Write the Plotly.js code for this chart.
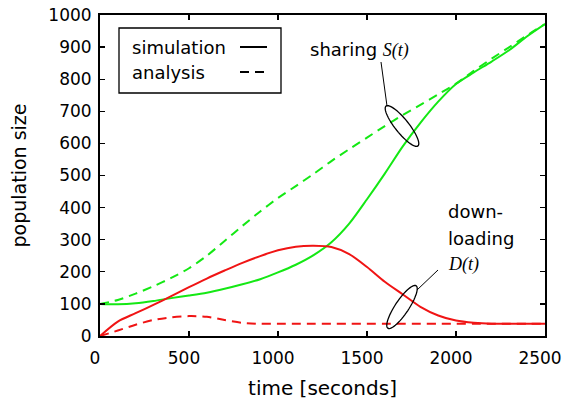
<!DOCTYPE html>
<html>
<head>
<meta charset="utf-8">
<script src="https://cdn.plot.ly/plotly-3.0.1.min.js"></script>
<style>html,body{margin:0;padding:0;background:#fff;}#chart{width:562px;height:401px;}</style>
</head>
<body>
<div id="chart"></div>
<script>
// time axis (seconds)
const time = [0,100,200,300,400,500,600,700,800,900,1000,1100,1200,1300,1400,1500,1600,1700,1800,1900,2000,2100,2200,2300,2400,2500];
// sharing S(t)
const sharingSim = [100,99,102,109,118,126,135,147,161,177,198,222,252,292,350,426,506,590,664,730,785,821,855,891,934,972];
const sharingAna = [100,112,132,155,181,211,250,296,343,388,430,467,505,545,582,618,654,688,720,753,786,826,864,900,937,972];
// downloading D(t)
const downSim = [0,45,71,97,124,152,179,204,228,249,267,278,281,277,255,215,169,130,91,64,48,41,38,38,38,38];
const downAna = [0,17,35,50,58,62,60,50,41,38,38,38,38,38,38,38,38,38,38,38,38,38,38,38,38,38];

const xTicks = [0,500,1000,1500,2000,2500];
const yTicks = [0,100,200,300,400,500,600,700,800,900,1000];
const legendLabels = ["simulation","analysis"];

const GREEN = "rgb(20,232,20)";
const RED = "rgb(240,20,20)";
const FONT = "DejaVu Sans, sans-serif";

const M = {l:100, r:17, t:15, b:65};
const W = 562, H = 401;
const pw = W - M.l - M.r, ph = H - M.t - M.b;
const X0 = 0, X1 = 2500, Y0 = 0, Y1 = 1000;
// pixel -> data helpers for annotation geometry
const px2x = p => X0 + (p - M.l) / pw * (X1 - X0);
const py2y = p => Y0 + (H - M.b - p) / ph * (Y1 - Y0);

function ellipsePath(cx, cy, a, b, dx, dy) {
  const n = Math.hypot(dx, dy); dx /= n; dy /= n;
  let d = "";
  for (let i = 0; i <= 60; i++) {
    const th = i / 60 * 2 * Math.PI;
    const u = a * Math.cos(th), v = b * Math.sin(th);
    const px = cx + u * dx - v * dy, py = cy + u * dy + v * dx;
    d += (i === 0 ? "M" : "L") + px2x(px).toFixed(2) + "," + py2y(py).toFixed(2);
  }
  return d + "Z";
}

const traces = [
  {x: time, y: sharingSim, mode: "lines", line: {color: GREEN, width: 2, shape: "spline", smoothing: 0.8}},
  {x: time, y: sharingAna, mode: "lines", line: {color: GREEN, width: 2, dash: "9px,6px", shape: "spline", smoothing: 0.8}},
  {x: time, y: downSim, mode: "lines", line: {color: RED, width: 2, shape: "spline", smoothing: 0.8}},
  {x: time, y: downAna, mode: "lines", line: {color: RED, width: 2, dash: "9px,6px", shape: "spline", smoothing: 0.8}}
];

const shapes = [
  // legend box
  {type: "rect", xref: "x", yref: "y", x0: px2x(119), x1: px2x(281), y0: py2y(28), y1: py2y(93), line: {color: "black", width: 1.3}, fillcolor: "white", layer: "above"},
  {type: "line", xref: "x", yref: "y", x0: px2x(240), x1: px2x(267), y0: py2y(47), y1: py2y(47), line: {color: "black", width: 2}},
  {type: "line", xref: "x", yref: "y", x0: px2x(240), x1: px2x(267), y0: py2y(72), y1: py2y(72), line: {color: "black", width: 2, dash: "9px,6px"}},
  // ellipses and leader lines
  {type: "path", xref: "x", yref: "y", path: ellipsePath(402, 126, 25.5, 6.8, 32, 40), line: {color: "black", width: 1.3}},
  {type: "line", xref: "x", yref: "y", x0: px2x(381), y0: py2y(62), x1: px2x(387), y1: py2y(106), line: {color: "black", width: 1}},
  {type: "path", xref: "x", yref: "y", path: ellipsePath(402, 307, 25.5, 6.8, 28, -42), line: {color: "black", width: 1.3}},
  {type: "line", xref: "x", yref: "y", x0: px2x(417), y0: py2y(290), x1: px2x(438), y1: py2y(270), line: {color: "black", width: 1}}
];

const annFont = {family: FONT, size: 18, color: "black"};
const serif = t => '<span style="font-family:Liberation Serif, serif;font-style:italic">' + t + '</span>';
const annotations = [
  {xref: "x", yref: "y", x: px2x(130), y: py2y(47), text: legendLabels[0], showarrow: false, xanchor: "left", yanchor: "middle", font: annFont},
  {xref: "x", yref: "y", x: px2x(130), y: py2y(72), text: legendLabels[1], showarrow: false, xanchor: "left", yanchor: "middle", font: annFont},
  {xref: "x", yref: "y", x: px2x(308), y: py2y(50), text: "sharing " + serif("S(t)"), showarrow: false, xanchor: "left", yanchor: "middle", font: annFont},
  {xref: "x", yref: "y", x: px2x(446), y: py2y(211), text: "down-", showarrow: false, xanchor: "left", yanchor: "middle", font: annFont},
  {xref: "x", yref: "y", x: px2x(446), y: py2y(238), text: "loading", showarrow: false, xanchor: "left", yanchor: "middle", font: annFont},
  {xref: "x", yref: "y", x: px2x(446), y: py2y(264), text: serif("D(t)"), showarrow: false, xanchor: "left", yanchor: "middle", font: annFont}
];

const axisCommon = {
  showline: true, linecolor: "black", linewidth: 2, mirror: "ticks",
  ticks: "inside", ticklen: 5, tickwidth: 1.3, tickcolor: "black",
  showgrid: false, zeroline: false, ticklabeloverflow: "allow",
  tickfont: {family: FONT, size: 17, color: "black"}
};

const layout = {
  width: W, height: H,
  margin: M,
  paper_bgcolor: "white", plot_bgcolor: "white",
  showlegend: false,
  font: {family: FONT, color: "black"},
  xaxis: Object.assign({}, axisCommon, {
    range: [X0, X1], tickvals: xTicks, ticktext: xTicks.map(String), ticklabelstandoff: 6, ticklabelshift: -5,
    title: {text: "time [seconds]", font: {family: FONT, size: 20, color: "black"}, standoff: 14}
  }),
  yaxis: Object.assign({}, axisCommon, {
    range: [Y0, Y1], tickvals: yTicks, ticktext: yTicks.map(String), ticklabelstandoff: 3,
    title: {text: "population size", font: {family: FONT, size: 19, color: "black"}, standoff: 17}
  }),
  shapes: shapes,
  annotations: annotations
};

Plotly.newPlot("chart", traces, layout, {staticPlot: true, displayModeBar: false});
</script>
</body>
</html>
